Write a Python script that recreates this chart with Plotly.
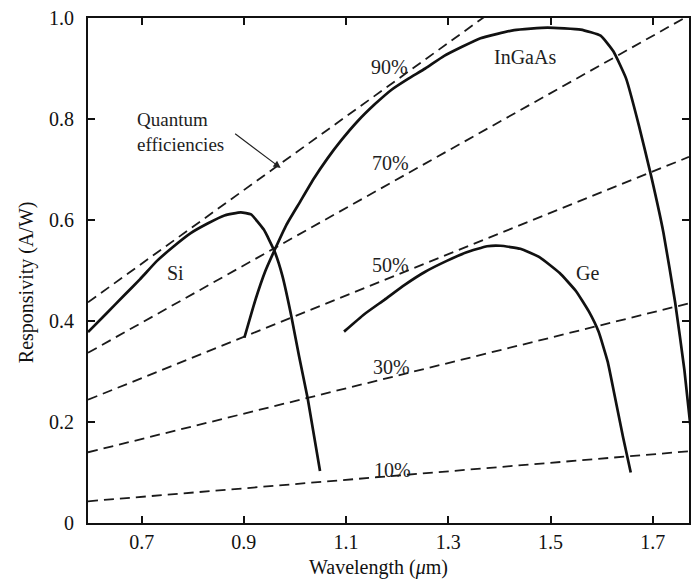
import plotly.graph_objects as go

# ---------------- data ----------------
si_wl = [0.595, 0.631, 0.664, 0.697, 0.730, 0.763, 0.796, 0.829, 0.862, 0.894, 0.914, 0.939,
         0.960, 0.975, 0.993, 1.008, 1.025, 1.049]
si_r = [0.378, 0.415, 0.449, 0.483, 0.519, 0.548, 0.574, 0.593, 0.609, 0.615, 0.611, 0.581,
        0.538, 0.491, 0.409, 0.330, 0.246, 0.103]

ingaas_wl = [0.901, 0.922, 0.942, 0.959, 0.983, 1.010, 1.037, 1.063, 1.090, 1.123, 1.156, 1.189,
             1.222, 1.255, 1.292, 1.363, 1.429, 1.494, 1.559, 1.598, 1.623, 1.648, 1.673, 1.697,
             1.721, 1.744, 1.762, 1.776]
ingaas_r = [0.367, 0.440, 0.499, 0.538, 0.590, 0.636, 0.682, 0.721, 0.757, 0.796, 0.829, 0.858,
            0.880, 0.900, 0.925, 0.960, 0.976, 0.981, 0.977, 0.965, 0.934, 0.880, 0.787, 0.687,
            0.575, 0.436, 0.303, 0.171]

ge_wl = [1.096, 1.135, 1.175, 1.214, 1.254, 1.297, 1.336, 1.376, 1.402, 1.441, 1.479, 1.518,
         1.550, 1.575, 1.594, 1.612, 1.624, 1.642, 1.657]
ge_r = [0.379, 0.413, 0.442, 0.471, 0.497, 0.519, 0.536, 0.548, 0.549, 0.543, 0.526, 0.495,
        0.459, 0.419, 0.379, 0.319, 0.260, 0.170, 0.100]

# quantum-efficiency reference lines: value at left and right edge of the plot
qe_labels = ["10%", "30%", "50%", "70%", "90%"]
qe_wl = [0.595, 1.771]
qe_left = [0.043, 0.140, 0.244, 0.337, 0.437]
qe_right = [0.142, 0.435, 0.725, 1.005, 1.294]
qe_label_wl = [1.190, 1.189, 1.187, 1.187, 1.184]
qe_label_r = [0.105, 0.309, 0.511, 0.713, 0.903]

x_ticks = [0.7, 0.9, 1.1, 1.3, 1.5, 1.7]
x_ticktext = ["0.7", "0.9", "1.1", "1.3", "1.5", "1.7"]
y_ticks = [0, 0.2, 0.4, 0.6, 0.8, 1.0]
y_ticktext = ["0", "0.2", "0.4", "0.6", "0.8", "1.0"]

FONT = "Liberation Serif"
TXT = "#1e1e1e"

fig = go.Figure()

for i, lab in enumerate(qe_labels):
    fig.add_trace(go.Scatter(
        x=qe_wl, y=[qe_left[i], qe_right[i]], mode="lines",
        line=dict(color="#1a1a1a", width=1.8, dash="10px,6px"),
        showlegend=False, hoverinfo="skip"))

for wl, r in [(si_wl, si_r), (ingaas_wl, ingaas_r), (ge_wl, ge_r)]:
    fig.add_trace(go.Scatter(
        x=wl, y=r, mode="lines",
        line=dict(color="#111111", width=2.7, shape="spline", smoothing=0.4),
        showlegend=False))

annotations = []
for i, lab in enumerate(qe_labels):
    annotations.append(dict(x=qe_label_wl[i], y=qe_label_r[i], text=lab, showarrow=False,
                            font=dict(family=FONT, size=20, color=TXT)))

annotations += [
    dict(x=1.450, y=0.923, text="InGaAs", showarrow=False, font=dict(family=FONT, size=20, color=TXT)),
    dict(x=1.573, y=0.495, text="Ge", showarrow=False, font=dict(family=FONT, size=20, color=TXT)),
    dict(x=0.766, y=0.496, text="Si", showarrow=False, font=dict(family=FONT, size=20, color=TXT)),
    dict(x=0.686, y=0.775, text="Quantum<br>efficiencies", showarrow=False, xanchor="left",
         yanchor="middle", align="left", font=dict(family=FONT, size=19, color=TXT)),
    dict(x=0.972, y=0.703, ax=0.880, ay=0.773, xref="x", yref="y", axref="x", ayref="y",
         text="", showarrow=True, arrowhead=2, arrowsize=1.2, arrowwidth=1.2, arrowcolor="#222"),
    dict(x=-0.103, y=0.477, xref="paper", yref="paper", xanchor="center", yanchor="middle",
         text="Responsivity (A/W)", textangle=-90,
         showarrow=False, font=dict(family=FONT, size=20, color="#111")),
    dict(x=0.484, y=-0.089, xref="paper", yref="paper", xanchor="center", yanchor="middle",
         text="Wavelength (<i>μ</i>m)",
         showarrow=False, font=dict(family=FONT, size=20, color="#111")),
]

axis_common = dict(showline=True, linecolor="#111", linewidth=2, mirror="allticks",
                   ticks="inside", ticklen=7, tickwidth=1.5, tickcolor="#111",
                   showgrid=False, zeroline=False,
                   tickfont=dict(family=FONT, size=20, color="#111"))

fig.update_layout(
    width=693, height=581,
    margin=dict(l=88, r=2, t=18, b=58),
    paper_bgcolor="white", plot_bgcolor="white",
    xaxis=dict(range=[0.595, 1.771], tickvals=x_ticks, ticktext=x_ticktext, **axis_common),
    yaxis=dict(range=[0, 1.0], tickvals=y_ticks, ticktext=y_ticktext, ticklabelstandoff=8, **axis_common),
    annotations=annotations,
)

fig.write_html("out.html")
